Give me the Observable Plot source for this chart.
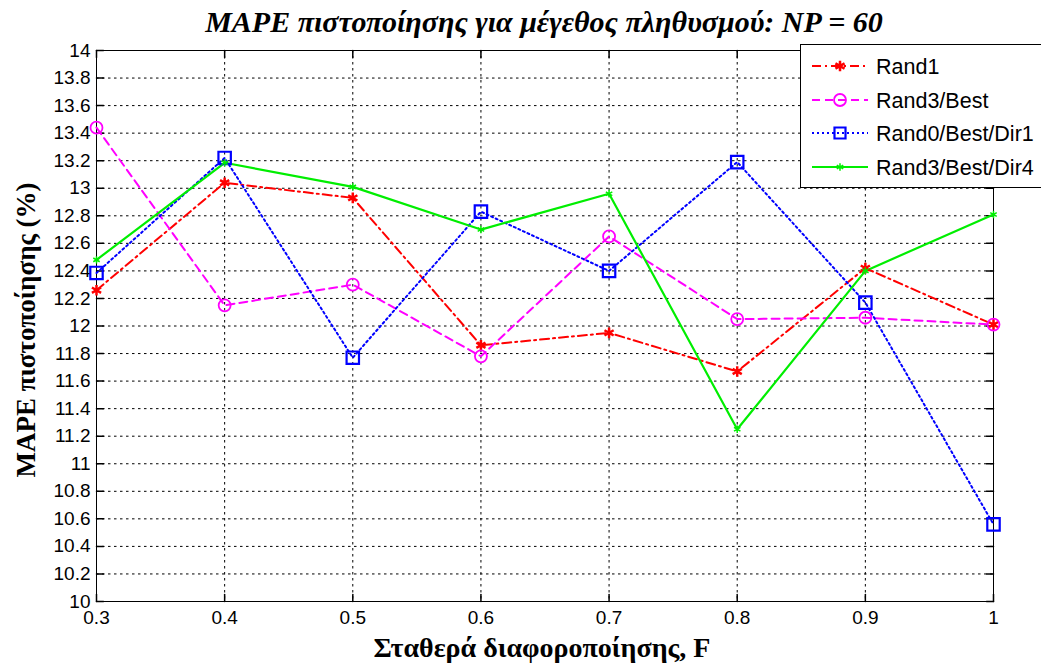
<!DOCTYPE html>
<html>
<head>
<meta charset="utf-8">
<script src="https://cdn.jsdelivr.net/npm/d3@7"></script>
<script src="https://cdn.jsdelivr.net/npm/@observablehq/plot@0.6"></script>
<style>
  html, body { margin: 0; padding: 0; background: #fff; }
</style>
</head>
<body>
<div id="chart"></div>
<script>
const F = [0.3, 0.4, 0.5, 0.6, 0.7, 0.8, 0.9, 1.0];
const rand1 = [12.26, 13.04, 12.93, 11.86, 11.95, 11.67, 12.42, 12.01];
const rand3Best = [13.44, 12.15, 12.30, 11.78, 12.65, 12.05, 12.06, 12.01];
const rand0BestDir1 = [12.385, 13.22, 11.77, 12.83, 12.40, 13.19, 12.17, 10.56];
const rand3BestDir4 = [12.48, 13.185, 13.01, 12.70, 12.96, 11.25, 12.40, 12.81];
const seriesNames = ["Rand1", "Rand3/Best", "Rand0/Best/Dir1", "Rand3/Best/Dir4"];
const xTicks = [0.3, 0.4, 0.5, 0.6, 0.7, 0.8, 0.9, 1.0];
const yTicks = d3.range(0, 21).map(i => +(10 + i * 0.2).toFixed(1));
const titleText = "MAPE πιστοποίησης για μέγεθος πληθυσμού: NP = 60";
const xLabel = "Σταθερά διαφοροποίησης, F";
const yLabel = "MAPE πιστοποίησης (%)";

const styles = [
  {color: "#ff0000", dash: "9,4,2,4", width: 2, symbol: "asterisk", r: 5, sw: 2.5, fill: "none"},
  {color: "#ff00ff", dash: "8,5", width: 2, symbol: "circle", r: 6, sw: 1.8, fill: "none"},
  {color: "#0000ff", dash: "2,3", width: 2, symbol: "square", r: 7, sw: 2.2, fill: "none"},
  {color: "#00ee00", dash: null, width: 2.2, symbol: "asterisk", r: 3.5, sw: 1.5, fill: "none"}
];
const allSeries = [rand1, rand3Best, rand0BestDir1, rand3BestDir4];
const rows = [];
allSeries.forEach((vals, s) => vals.forEach((v, i) => rows.push({s, name: seriesNames[s], F: F[i], v})));

const tickShape = {draw(context, l) { context.moveTo(0, 0); context.lineTo(0, -l); }};
const fmt = d => String(+d.toFixed(1));
const tickFont = "Liberation Sans, Arial, sans-serif";

const lineMarks = [];
styles.forEach((st, s) => {
  const d = rows.filter(r => r.s === s);
  lineMarks.push(Plot.line(d, {x: "F", y: "v", stroke: st.color, strokeWidth: st.width, strokeDasharray: st.dash}));
});
styles.forEach((st, s) => {
  const d = rows.filter(r => r.s === s);
  lineMarks.push(Plot.dot(d, {x: "F", y: "v", stroke: st.color, fill: st.fill, symbol: () => st.symbol, r: st.r, strokeWidth: st.sw}));
});

const plot = Plot.plot({
  width: 1041,
  height: 664,
  marginLeft: 96,
  marginRight: 48,
  marginTop: 50,
  marginBottom: 63,
  style: {fontFamily: "Liberation Sans, Arial, sans-serif", fontSize: "18px", background: "#fff", color: "#000"},
  x: {domain: [0.3, 1.0], ticks: xTicks},
  y: {domain: [10, 14], ticks: yTicks},
  symbol: {type: "identity"},
  marks: [
    Plot.gridX(xTicks, {stroke: "#000", strokeOpacity: 1, strokeDasharray: "2.5,3.5", strokeWidth: 1}),
    Plot.gridY(yTicks, {stroke: "#000", strokeOpacity: 1, strokeDasharray: "2.5,3.5", strokeWidth: 1}),
    Plot.vector(xTicks, {x: d => d, frameAnchor: "bottom", length: 7, rotate: 0, anchor: "start", shape: tickShape, stroke: "#000"}),
    Plot.vector(xTicks, {x: d => d, frameAnchor: "top", length: 7, rotate: 180, anchor: "start", shape: tickShape, stroke: "#000"}),
    Plot.vector(yTicks, {y: d => d, frameAnchor: "left", length: 7, rotate: 90, anchor: "start", shape: tickShape, stroke: "#000"}),
    Plot.vector(yTicks, {y: d => d, frameAnchor: "right", length: 7, rotate: -90, anchor: "start", shape: tickShape, stroke: "#000"}),
    Plot.axisX(xTicks, {tickSize: 0, tickPadding: 9, tickFormat: fmt, label: null, fontSize: 19, fontFamily: tickFont}),
    Plot.axisY(yTicks, {tickSize: 0, tickPadding: 6, tickFormat: fmt, label: null, fontSize: 19, fontFamily: tickFont}),
    Plot.frame({stroke: "#000", strokeWidth: 1}),
    ...lineMarks
  ]
});

document.getElementById("chart").appendChild(plot);

const svg = d3.select(plot);
const serif = "Liberation Serif, Times New Roman, serif";
svg.append("text")
  .attr("x", 544).attr("y", 32)
  .attr("text-anchor", "middle")
  .attr("font-family", serif).attr("font-weight", "bold").attr("font-style", "italic")
  .attr("font-size", 30).attr("fill", "#000")
  .text(titleText);
svg.append("text")
  .attr("x", 542).attr("y", 657)
  .attr("text-anchor", "middle")
  .attr("font-family", serif).attr("font-weight", "bold")
  .attr("font-size", 28).attr("fill", "#000")
  .text(xLabel);
svg.append("text")
  .attr("transform", "translate(35,330) rotate(-90)")
  .attr("text-anchor", "middle")
  .attr("font-family", serif).attr("font-weight", "bold")
  .attr("font-size", 27).attr("fill", "#000")
  .text(yLabel);

// Legend
const lg = svg.append("g");
lg.append("rect").attr("x", 800.5).attr("y", 44.5).attr("width", 260).attr("height", 143)
  .attr("fill", "#fff").attr("stroke", "#000").attr("stroke-width", 1);
const rowY = [66, 100, 133, 167];
styles.forEach((st, i) => {
  const y = rowY[i];
  lg.append("line").attr("x1", 812).attr("x2", 868).attr("y1", y).attr("y2", y)
    .attr("stroke", st.color).attr("stroke-width", st.width)
    .attr("stroke-dasharray", st.dash);
  const sym = d3.symbol().type(st.symbol === "circle" ? d3.symbolCircle : st.symbol === "square" ? d3.symbolSquare : d3.symbolAsterisk)
    .size(st.symbol === "square" ? (st.r * 2) ** 2 * 0.62 : Math.PI * st.r * st.r);
  lg.append("path").attr("d", sym()).attr("transform", `translate(840,${y})`)
    .attr("fill", st.fill).attr("stroke", st.color).attr("stroke-width", st.sw);
  lg.append("text").attr("x", 876).attr("y", y).attr("dy", "0.35em")
    .attr("text-anchor", "start")
    .attr("font-family", "Liberation Sans, Arial, sans-serif").attr("font-size", 21.5).attr("fill", "#000")
    .text(seriesNames[i]);
});
</script>
</body>
</html>
